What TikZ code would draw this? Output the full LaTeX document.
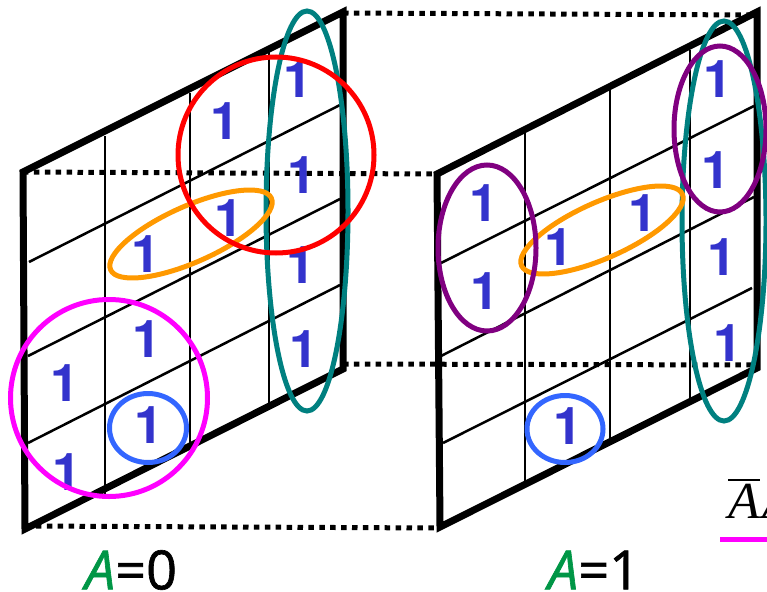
\documentclass[tikz,border=0pt]{standalone}
\usepackage{fontspec}
\usepackage{tikz}
\usetikzlibrary{shapes.geometric}
\setmainfont{TeX Gyre Heros}
\newfontfamily\serifit{Liberation Serif}
\newfontfamily\labelfont[FakeBold=1.2]{Open Sans}
\definecolor{digitblue}{HTML}{3333CC}
\definecolor{loopteal}{HTML}{008080}
\definecolor{looppurple}{HTML}{800080}
\definecolor{loopmagenta}{HTML}{FF00FF}
\definecolor{looporange}{HTML}{FF9900}
\definecolor{loopblue}{HTML}{3366FF}
\definecolor{labelgreen}{HTML}{009646}
\newcommand{\barred}[1]{\vbox{\hrule height 1.5pt\kern 4pt\hbox{#1}}}
\begin{document}
\begin{tikzpicture}[x=1pt,y=-1pt,
  frame/.style={line width=7pt,line join=miter},
  gridline/.style={line width=2.5pt},
  link/.style={line width=5pt,dash pattern=on 5.5pt off 5.4pt},
  digit/.style={font=\fontsize{52}{52}\selectfont\bfseries,text=digitblue,inner sep=0pt,xshift=3pt},
  loope/.style={ellipse,draw,line width=5pt,inner sep=0pt},
  maplabel/.style={font=\fontsize{54}{54}\selectfont\labelfont,inner sep=0pt}]
\useasboundingbox (0,0) rectangle (767,591);
% corners of the two maps
\coordinate (ltl) at (23,172);
\coordinate (ltr) at (343,12);
\coordinate (lbr) at (343,369);
\coordinate (lbl) at (25,529);
\coordinate (rtl) at (437,174);
\coordinate (rtr) at (757,12);
\coordinate (rbr) at (757,368);
\coordinate (rbl) at (440,527);
% ends of the dotted links
\coordinate (lbrlink) at (343,364);
\coordinate (rbrlink) at (757,365);
\coordinate (lbllink) at (25,526);
\coordinate (rbllink) at (440,528);
\coordinate (ltrlink) at (343,13);
\coordinate (rtrlink) at (757,15);
% dotted links
\draw[link] (ltrlink) -- (rtrlink);
\draw[link] (ltl) -- (rtl);
\draw[link] (lbrlink) -- (rbrlink);
\draw[link] (lbllink) -- (rbllink);
% left map
\draw[gridline] (105,136) -- (105,495);
\draw[gridline] (190,93) -- (190,445);
\draw[gridline] (269,52) -- (269,403);
\draw[gridline] (29,262) -- (340,105);
\draw[gridline] (28,356) -- (340,199);
\draw[gridline] (28,443) -- (340,285);
\draw[frame] (ltl) -- (ltr) -- (lbr) -- (lbl) -- cycle;
% right map
\draw[gridline] (525,133) -- (525,486);
\draw[gridline] (610,90) -- (610,443);
\draw[gridline] (690,50) -- (690,403);
\draw[gridline] (441,263) -- (754,106);
\draw[gridline] (441,356) -- (754,197);
\draw[gridline] (443,443) -- (752,288);
\draw[frame] (rtl) -- (rtr) -- (rbr) -- (rbl) -- cycle;
% ones of the left map
\node[digit] (l1) at (295,79) {1};
\node[digit] (l2) at (222,121) {1};
\node[digit] (l3) at (299,175) {1};
\node[digit] (l4) at (226,218) {1};
\node[digit] (l5) at (298,265) {1};
\node[digit] (l6) at (143,254) {1};
\node[digit] (l7) at (144,339) {1};
\node[digit] (l8) at (301,349) {1};
\node[digit] (l9) at (62,383) {1};
\node[digit] (l10) at (146,425) {1};
\node[digit] (l11) at (64,472) {1};
% ones of the right map
\node[digit] (r1) at (715,79) {1};
\node[digit] (r2) at (713,170) {1};
\node[digit] (r3) at (481,203) {1};
\node[digit] (r4) at (640,213) {1};
\node[digit] (r5) at (556,247) {1};
\node[digit] (r6) at (719,257) {1};
\node[digit] (r7) at (482,291) {1};
\node[digit] (r8) at (725,343) {1};
\node[digit] (r9) at (565,426) {1};
% loops of the left map
\node[loope,draw=loopteal,minimum width=82pt,minimum height=400pt] (ltealloop) at (307,211) {};
\node[loope,draw=looporange,minimum width=176pt,minimum height=56pt,rotate=24] (lorangeloop) at (191,234) {};
\node[loope,draw=red,minimum width=196pt,minimum height=196pt] (lredloop) at (276,155) {};
\node[loope,draw=loopmagenta,minimum width=197pt,minimum height=197pt] (lmagentaloop) at (109,398) {};
\node[loope,draw=loopblue,minimum width=77pt,minimum height=69pt] (lblueloop) at (148,428) {};
% loops of the right map
\node[loope,draw=loopteal,minimum width=84pt,minimum height=400pt] (rtealloop) at (724,221) {};
\node[loope,draw=looporange,minimum width=176pt,minimum height=56pt,rotate=24] (rorangeloop) at (602,230) {};
\node[loope,draw=looppurple,minimum width=98pt,minimum height=166pt] (rpurpleloopa) at (487,248) {};
\node[loope,draw=looppurple,minimum width=92pt,minimum height=166pt] (rpurpleloopb) at (720,129) {};
\node[loope,draw=loopblue,minimum width=76pt,minimum height=67pt] (rblueloop) at (565,429) {};
% labels
\node[maplabel] (azero) at (131,570) {\textcolor{labelgreen}{\textit{A}}=0};
\node[maplabel] (aone) at (594,570) {\textcolor{labelgreen}{\textit{A}}=1};
\node[anchor=west,inner sep=0pt,font=\fontsize{52}{52}\selectfont\serifit\itshape] (abar) at (728,499) {\barred{A}\kern 3pt A};
\coordinate (keya) at (720,539);
\coordinate (keyb) at (767,539);
\draw[loopmagenta,line width=5pt] (keya) -- (keyb);
\end{tikzpicture}
\end{document}
